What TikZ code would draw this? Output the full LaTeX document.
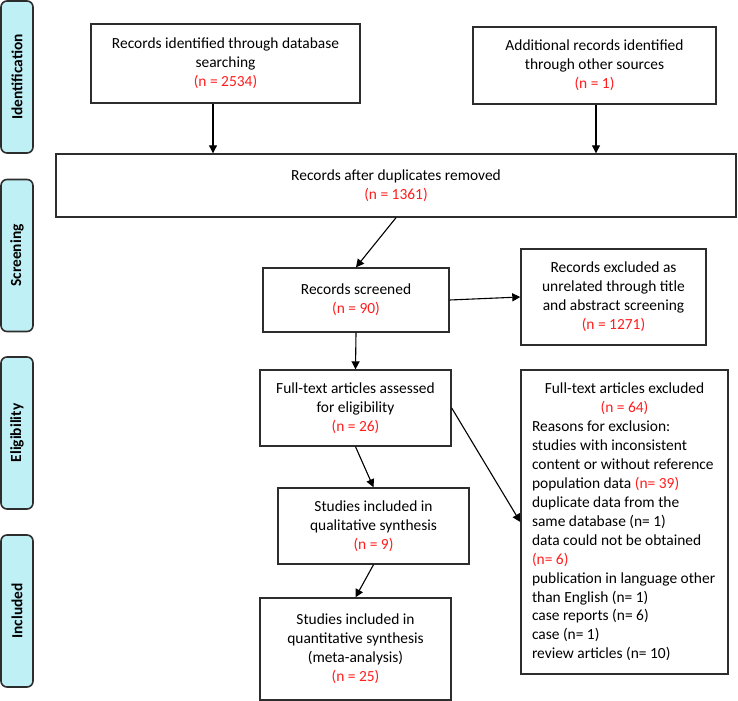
\documentclass[tikz,border=0pt]{standalone}
\usepackage{fontspec}
\setmainfont{Carlito}
\usetikzlibrary{arrows.meta,calc}
\definecolor{side}{RGB}{191,240,246}
\definecolor{nred}{RGB}{255,30,30}
\definecolor{edge}{RGB}{45,45,45}
\newcommand{\nr}[1]{\textcolor{nred}{#1}}
\begin{document}
\begin{tikzpicture}[x=1bp,y=-1bp,
 box/.style={draw=edge,line width=1.4bp,fill=white,align=center,inner sep=0pt,font=\fontsize{15.5}{19}\selectfont},
 phase/.style={draw=edge,line width=1.6bp,fill=side,rounded corners=6bp,minimum width=152bp,minimum height=32bp,inner sep=0pt,font=\fontsize{15.5}{17}\selectfont\bfseries,rotate=90},
 arr/.style={draw=black,line width=1.1bp,-{Triangle[length=8bp,width=8bp]}}]
\useasboundingbox (0,0) rectangle (738,701);

% phase labels
\node[phase] (pid) at (17,77) {Identification};
\node[phase] (psc) at (17,255.5) {Screening};
\node[phase] (pel) at (17,433) {Eligibility};
\node[phase] (pin) at (17,611) {Included};

% boxes
\node[box,minimum width=269bp,minimum height=79bp] (b1) at (225.5,63.5)
 {Records identified through database\\searching\\\nr{(n = 2534)}};
\node[box,minimum width=243bp,minimum height=77bp] (b2) at (594.5,65.5)
 {Additional records identified\\through other sources\\\nr{(n = 1)}};
\node[box,minimum width=680bp,minimum height=63bp] (b3) at (396,185.5)
 {Records after duplicates removed\\\nr{(n = 1361)}};
\node[box,minimum width=186bp,minimum height=64bp] (scr) at (356,300)
 {Records screened\\\nr{(n = 90)}};
\node[box,minimum width=185bp,minimum height=96bp] (ex1) at (613.5,297)
 {Records excluded as\\unrelated through title\\and abstract screening\\\nr{(n = 1271)}};
\node[box,minimum width=191bp,minimum height=76bp] (ft) at (355.5,408)
 {Full-text articles assessed\\for eligibility\\\nr{(n = 26)}};
\node[box,align=left,minimum width=207bp,minimum height=304bp] (ex2) at (624.5,522)
 {\makebox[185bp][c]{Full-text articles excluded}\\
  \makebox[185bp][c]{\nr{(n = 64)}}\\
  Reasons for exclusion:\\
  studies with inconsistent\\
  content or without reference\\
  population data \nr{(n= 39)}\\
  duplicate data from the\\
  same database (n= 1)\\
  data could not be obtained\\
  \nr{(n= 6)}\\
  publication in language other\\
  than English (n= 1)\\
  case reports (n= 6)\\
  case (n= 1)\\
  review articles (n= 10)};
\node[box,minimum width=191bp,minimum height=76bp] (qual) at (373.5,526)
 {Studies included in\\qualitative synthesis\\\nr{(n = 9)}};
\node[box,minimum width=191bp,minimum height=102bp] (quan) at (355.5,649)
 {Studies included in\\quantitative synthesis\\(meta-analysis)\\\nr{(n = 25)}};

% connectors
\draw[arr] ([xshift=-12.5bp]b1.south) -- ([xshift=-12.5bp]b1.south |- b3.north);
\draw[arr] ([xshift=1.5bp]b2.south) -- ([xshift=1.5bp]b2.south |- b3.north);
\draw[arr] (b3.south) -- (scr.north);
\draw[arr] (scr.east) -- (ex1.west);
\draw[arr] (scr.south) -- (ft.north);
\draw[arr] (ft.east) -- (ex2.west);
\draw[arr] (ft.south) -- (qual.north);
\draw[arr] (qual.south) -- (quan.north);
\end{tikzpicture}
\end{document}
